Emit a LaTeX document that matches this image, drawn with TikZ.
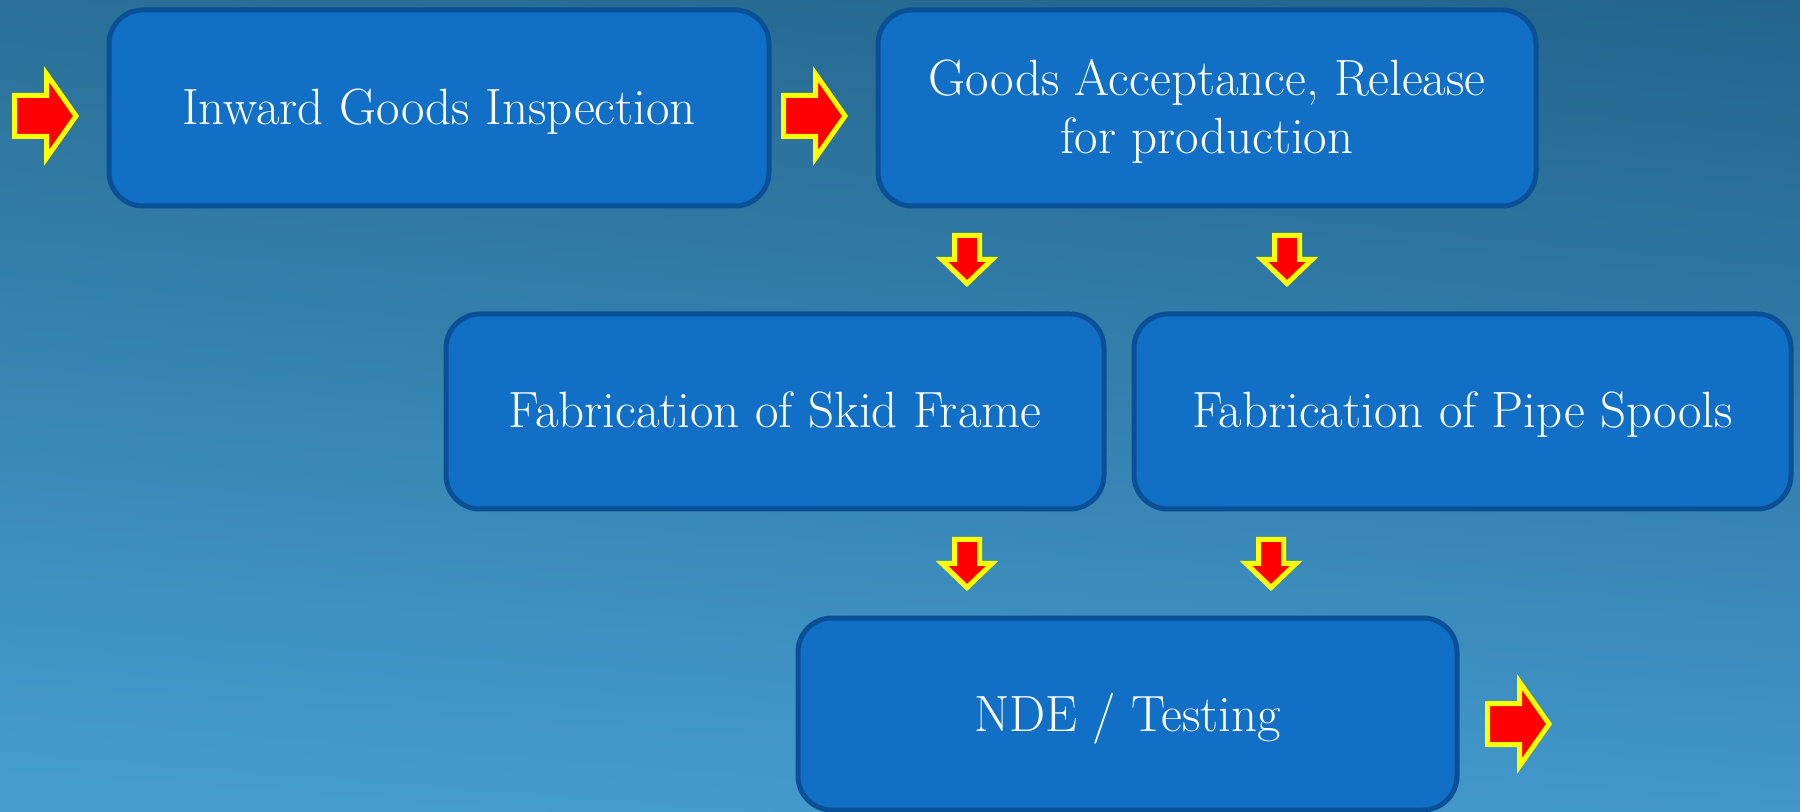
\documentclass[tikz,border=0pt]{standalone}
\usepackage{fontspec}
\usetikzlibrary{shadings}
\definecolor{bgUL}{RGB}{42,112,152}
\definecolor{bgUR}{RGB}{34,100,140}
\definecolor{bgLL}{RGB}{70,158,208}
\definecolor{bgLR}{RGB}{66,150,202}
\definecolor{boxfill}{RGB}{17,112,198}
\definecolor{boxline}{RGB}{10,80,150}
\definecolor{arrfill}{RGB}{255,0,0}
\definecolor{arrline}{RGB}{255,255,0}
\begin{document}
\begin{tikzpicture}[x=0.5pt,y=-0.5pt,
  stepbox/.style={draw=boxline, line width=2.5pt, fill=boxfill, rounded corners=17pt,
    text=white, align=center, inner sep=0pt, text depth=1.5pt,
    font=\fontsize{25.5}{29}\selectfont},
  blockarrow/.style={draw=arrline, fill=arrfill, line width=2.5pt, line join=miter},
  rarrow/.pic={\path[blockarrow] (-31.5,-20.5) -- (0.5,-20.5) -- (0.5,-42) -- (30,0) -- (0.5,42) -- (0.5,20.5) -- (-31.5,20.5) -- cycle;},
  darrow/.pic={\path[blockarrow] (-12.5,-24.5) -- (12.5,-24.5) -- (12.5,-0.5) -- (25,-0.5) -- (0,23.5) -- (-25,-0.5) -- (-12.5,-0.5) -- cycle;}
]
\useasboundingbox (0,0) rectangle (1800,812);
\shade[upper left=bgUL, upper right=bgUR, lower left=bgLL, lower right=bgLR] (0,0) rectangle (1800,812);

\node[stepbox, minimum width=330pt, minimum height=98pt] (inward) at (439,108) {Inward Goods Inspection};
\node[stepbox, minimum width=329pt, minimum height=98pt] (accept) at (1207,108) {Goods Acceptance, Release\\for production};
\node[stepbox, minimum width=329pt, minimum height=97.5pt] (skid) at (775,411.5) {Fabrication of Skid Frame};
\node[stepbox, minimum width=328.5pt, minimum height=97.5pt] (pipe) at (1462.5,411.5) {Fabrication of Pipe Spools};
\node[stepbox, minimum width=329.5pt, minimum height=96pt] (nde) at (1127.5,714) {NDE / Testing};

\pic at (46,116) {rarrow};
\pic at (815,116) {rarrow};
\pic at (967,260) {darrow};
\pic at (1287,260) {darrow};
\pic at (967,564) {darrow};
\pic at (1271,564) {darrow};
\pic at (1519,724) {rarrow};
\end{tikzpicture}
\end{document}
